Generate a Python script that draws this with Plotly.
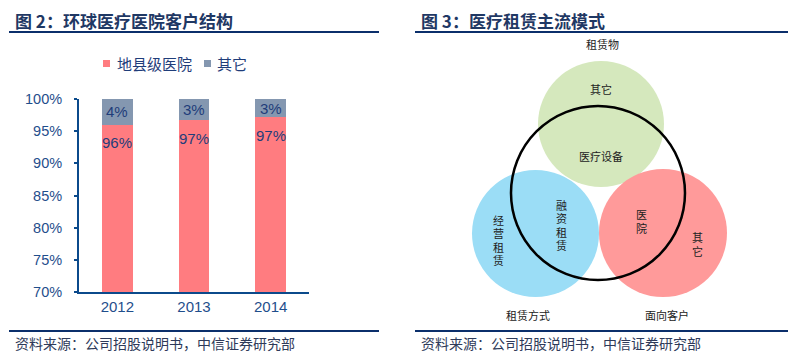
import plotly.graph_objects as go

# ---- data ----
years = ["2012", "2013", "2014"]
county_hospital = [96.0, 96.7, 97.2]   # 地县级医院 (%)
others = [4.0, 3.3, 2.8]               # 其它 (%)
series_names = ["地县级医院", "其它"]
y_ticks = [70, 75, 80, 85, 90, 95, 100]
y_tick_labels = [f"{v}%" for v in y_ticks]

venn_circle_names = ["租赁物", "租赁方式", "面向客户"]

W, H = 792, 359
RED = "#FF7C80"
GRAY = "#8497B0"
NAVY = "#0B2F6B"
AXIS = "#0B4A8B"
TICK = "#1F4E8C"
LABEL = "#1F3D7A"
CJK = "Noto Sans CJK SC"
LAT = "Liberation Sans, Arial"


def px(x):
    return x / W


def py(y):
    return 1 - y / H


fig = go.Figure()
fig.add_trace(go.Bar(x=years, y=county_hospital, name=series_names[0],
                     marker=dict(color=RED, line=dict(width=0)), width=0.4,
                     hoverinfo="skip", showlegend=False))
fig.add_trace(go.Bar(x=years, y=others, name=series_names[1],
                     marker=dict(color=GRAY, line=dict(width=0)), width=0.4,
                     hoverinfo="skip", showlegend=False))
# empty trace so the diagram subplot exists
fig.add_trace(go.Scatter(x=[None], y=[None], xaxis="x2", yaxis="y2", showlegend=False,
                         hoverinfo="skip"))

annotations = []
shapes = []

# data labels (category index positions)
for i, yr in enumerate(years):
    annotations.append(dict(x=i, y=county_hospital[i], xref="x", yref="y",
                            text=f"{round(county_hospital[i])}%", showarrow=False,
                            yanchor="middle", yshift=-18,
                            font=dict(family=LAT, size=15, color=LABEL)))
    annotations.append(dict(x=i, y=county_hospital[i] + others[i] / 2, xref="x", yref="y",
                            text=f"{round(others[i])}%", showarrow=False,
                            yanchor="middle",
                            font=dict(family=LAT, size=15, color=LABEL)))

# titles
annotations.append(dict(x=px(13), y=py(20), xref="paper", yref="paper", xanchor="left",
                        yanchor="middle", text="图 2：环球医疗医院客户结构", showarrow=False,
                        font=dict(family=CJK, size=17, color="#1F3864", weight="bold")))
annotations.append(dict(x=px(419), y=py(20), xref="paper", yref="paper", xanchor="left",
                        yanchor="middle", text="图 3：医疗租赁主流模式", showarrow=False,
                        font=dict(family=CJK, size=17, color="#1F3864", weight="bold")))
# sources
for x0 in (13, 419):
    annotations.append(dict(x=px(x0), y=py(343), xref="paper", yref="paper", xanchor="left",
                            yanchor="middle", text="资料来源：公司招股说明书，中信证券研究部",
                            showarrow=False, font=dict(family=CJK, size=14, color="#2E3A59")))

# rule lines
for (x0, x1) in ((9, 379), (415, 788)):
    for yy in (32, 331):
        shapes.append(dict(type="line", xref="paper", yref="paper", x0=px(x0), x1=px(x1),
                           y0=py(yy), y1=py(yy), line=dict(color=NAVY, width=2)))

# custom legend
for (sx, tx, col, name) in ((103, 115, RED, series_names[0]), (204, 215, GRAY, series_names[1])):
    shapes.append(dict(type="rect", xref="paper", yref="paper", x0=px(sx), x1=px(sx + 7),
                       y0=py(60), y1=py(67), fillcolor=col, line=dict(width=0)))
    annotations.append(dict(x=px(tx), y=py(63.5), xref="paper", yref="paper", xanchor="left",
                            yanchor="middle", text=name, showarrow=False,
                            font=dict(family=CJK, size=15, color=LABEL)))

# Venn diagram (x2/y2 are pixel-scaled)
circles = [
    (601, 124, 63, "#D5E8BD"),
    (535.5, 233.5, 63.5, "#9BDDF6"),
    (663, 233, 64, "#FF9A9A"),
]
for cx, cy, r, col in circles:
    shapes.append(dict(type="circle", xref="x2", yref="y2", x0=cx - r, x1=cx + r,
                       y0=cy - r, y1=cy + r, fillcolor=col, line=dict(width=0)))
shapes.append(dict(type="circle", xref="x2", yref="y2", x0=598 - 87, x1=598 + 87,
                   y0=193 - 87, y1=193 + 87, line=dict(color="black", width=2.5)))

venn_texts = [
    (602, 44, venn_circle_names[0]),
    (601, 89, "其它"),
    (601, 156, "医疗设备"),
    (528, 315, venn_circle_names[1]),
    (667, 315, venn_circle_names[2]),
]
venn_vertical = [
    (498, 240, "经营租赁"),
    (561, 225, "融资租赁"),
    (641, 221, "医院"),
    (697, 244, "其它"),
]
VFONT = dict(family=CJK, size=11, color="#222222")
for x, y, t in venn_texts:
    annotations.append(dict(x=x, y=y, xref="x2", yref="y2", text=t, showarrow=False,
                            xanchor="center", yanchor="middle", font=VFONT))
PITCH = 13.3
for x, y, t in venn_vertical:
    n = len(t)
    for k, ch in enumerate(t):
        annotations.append(dict(x=x, y=y + (k - (n - 1) / 2) * PITCH, xref="x2", yref="y2",
                                text=ch, showarrow=False, xanchor="center", yanchor="middle",
                                borderpad=0, font=VFONT))

fig.update_layout(
    width=W, height=H, margin=dict(l=0, r=0, t=0, b=0, autoexpand=False),
    paper_bgcolor="white", plot_bgcolor="white",
    barmode="stack", showlegend=False,
    xaxis=dict(domain=[px(79), px(309)], type="category", range=[-0.5, 2.5],
               showline=True, linecolor=AXIS, linewidth=2, ticks="", showgrid=False,
               zeroline=False, automargin=False,
               tickfont=dict(family=LAT, size=15, color=TICK)),
    yaxis=dict(domain=[py(292), py(99)], range=[70, 100], tickmode="array",
               tickvals=y_ticks, ticktext=y_tick_labels,
               showline=True, linecolor=AXIS, linewidth=2,
               ticks="outside", ticklen=3, tickwidth=2, tickcolor=AXIS,
               ticklabelstandoff=9,
               showgrid=False, zeroline=False, automargin=False,
               tickfont=dict(family=LAT, size=14.5, color=TICK)),
    xaxis2=dict(domain=[0.5, 1], range=[396, 792], visible=False, anchor="y2",
                fixedrange=True, automargin=False),
    yaxis2=dict(domain=[0, 1], range=[359, 0], visible=False, anchor="x2",
                fixedrange=True, automargin=False),
    annotations=annotations, shapes=shapes,
)

fig.write_html("out.html", config={"displayModeBar": False, "staticPlot": True},
               post_script="document.body.style.margin='0';document.body.style.overflow='hidden';")
